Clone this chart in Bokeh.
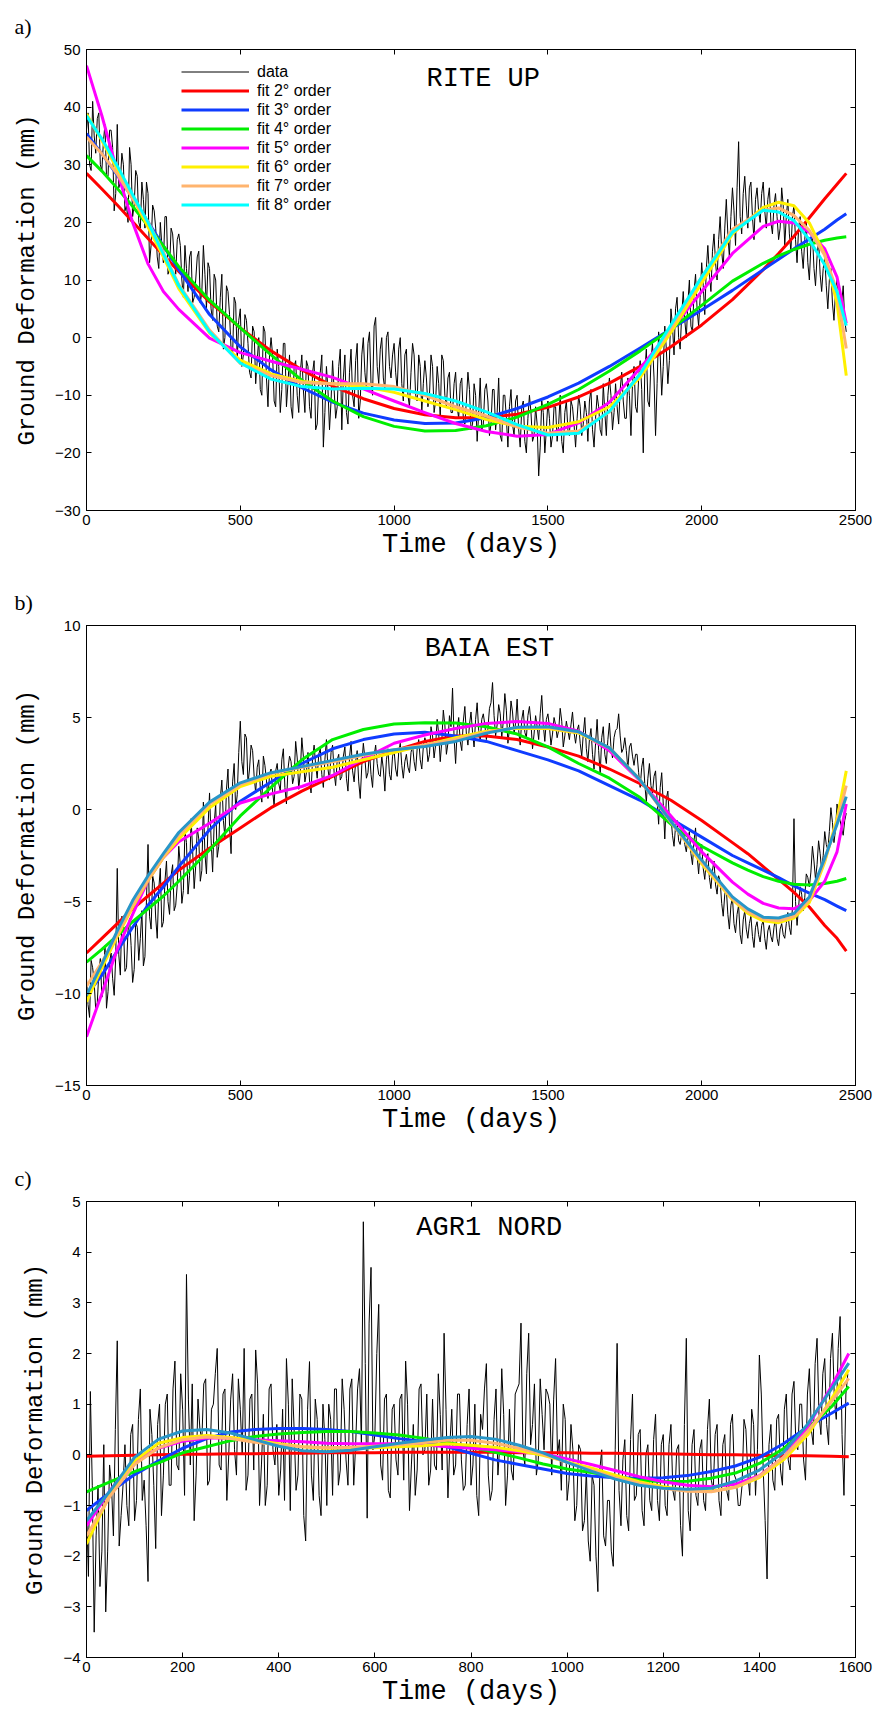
from bokeh.plotting import figure
from bokeh.models import Range1d, LinearAxis, FixedTicker, Label, Legend, LegendItem, Title
from bokeh.layouts import column
from bokeh.embed import file_html
from bokeh.resources import INLINE

MONO = "Liberation Mono"
SANS = "Liberation Sans"
SERIF = "Liberation Serif"

# ---------------- tick values ----------------
xticks_ab = [0, 500, 1000, 1500, 2000, 2500]
xticks_c = [0, 200, 400, 600, 800, 1000, 1200, 1400, 1600]
yticks_a = [-30, -20, -10, 0, 10, 20, 30, 40, 50]
yticks_b = [-15, -10, -5, 0, 5, 10]
yticks_c = [-4, -3, -2, -1, 0, 1, 2, 3, 4, 5]

legend_labels = ["data", "fit 2\u00b0 order", "fit 3\u00b0 order", "fit 4\u00b0 order",
                 "fit 5\u00b0 order", "fit 6\u00b0 order", "fit 7\u00b0 order", "fit 8\u00b0 order"]

# ---------------- panel a : RITE UP ----------------
# readings at days 0, 10, 20, ...
data_a_even = [
    36, 30, 41, 32, 39, 29, 37, 28, 36, 22,
    37, 27, 30, 23, 33, 21, 29, 20, 27, 19,
    25, 16, 22, 14, 20, 13, 21, 12, 18, 11,
    18, 10, 16, 8, 15, 7, 14, 6, 16, 5,
    12, 3, 10, 1, 11, 0, 8, -2, 7, -4,
    5, -3, 3, -6, 2, -8, 0, -10, 1, -12,
    0, -11, -2, -13, -1, -12, -3, -14, -4, -13,
    -3, -13, -5, -14, -4, -15, -6, -19, -5, -16,
    -4, -14, -5, -16, -3, -15, -2, -12, -1, -11,
    0, -9, 1, -10, 3.5, -8, 0, -9, 1, -7,
    -1, -9, 0, -11, -2, -12, -1, -10, -3, -13,
    -4, -12, -3, -13, -5, -14, -4, -12, -6, -13,
    -6, -14, -7, -15, -6, -16, -8, -18, -7, -15,
    -8, -17, -9, -16, -7, -18, -10, -19, -9, -17,
    -10, -19, -11, -20, -10, -18, -12, -24, -11, -20,
    -11, -19, -12, -18, -10, -20, -11, -17, -12, -19,
    -10, -17, -11, -18, -9, -19, -10, -16, -8, -17,
    -7, -16, -8, -15, -6, -14, -7, -17, -5, -13,
    -4, -20, -2, -12, -1, -17, 1, -10, 2, -8,
    5, -3, 7, -2, 8, 0, 10, 1, 11, 2,
    13, 4, 16, 8, 18, 10, 21, 12, 24, 14,
    26, 16, 34, 18, 28, 19, 27, 17, 26, 20,
    27, 19, 26, 18, 25, 17, 26, 16, 24, 15,
    23, 13, 21, 12, 20, 10, 18, 9, 17, 8,
    14, 5, 12, 3, 10, 2, 9, 1]
# readings at days 5, 15, 25, ...
data_a_odd = [
    39, 29, 35, 38, 30, 34, 28, 36, 33, 25,
    26, 32, 22, 20, 30, 23, 28, 19, 24, 27,
    13, 23, 19, 12, 16, 21, 11, 19, 14, 17,
    16, 7, 12, 14, 6, 10, 15, 8, 11, 13,
    5, 11, 2, 7, -2, 9, 4, -3, 6, 3,
    -5, 4, -1, -7, 1, -4, -9, 2, -7, -3,
    -3, -12, -5, -9, -1, -8, -12, -5, -10, -6,
    -9, -4, -12, -6, -16, -8, -3, -13, -9, -11,
    -9, -12, -2, -7, -13, -6, -10, -4, -14, -3,
    -6, -1, -8, 2, -5, -2, -7, 0, -5, -3,
    -6, -2, -8, -3, -10, -6, -3, -11, -5, -8,
    -7, -10, -5, -11, -8, -3, -10, -7, -13, -8,
    -12, -8, -14, -11, -9, -15, -10, -13, -16, -9,
    -11, -15, -9, -13, -17, -10, -14, -12, -15, -11,
    -16, -12, -18, -14, -13, -17, -15, -19, -13, -16,
    -14, -17, -12, -15, -18, -13, -16, -11, -15, -14,
    -12, -15, -13, -11, -16, -14, -12, -17, -13, -10,
    -10, -13, -12, -9, -11, -14, -10, -8, -12, -7,
    -9, -6, -11, -4, -7, -8, -3, -5, -2, -4,
    2, 5, 0, 4, 3, 6, 2, 8, 5, 7,
    9, 12, 11, 15, 13, 17, 15, 19, 18, 21,
    22, 26, 21, 25, 23, 26, 21, 24, 22, 25,
    22, 24, 20, 23, 21, 19, 23, 21, 18, 21,
    17, 19, 15, 17, 13, 16, 12, 14, 11, 12,
    9, 10, 6, 8, 4, 6, 3]

xfit_a = [0, 50, 100, 150, 200, 250, 300, 400, 500, 600, 700, 800, 900, 1000, 1100, 1200,
          1300, 1400, 1500, 1600, 1700, 1800, 1900, 2000, 2100, 2200, 2250, 2300, 2350, 2400, 2440, 2470]
fit2_a = [28.5, 25.8, 23.0, 20.1, 17.2, 14.3, 11.5, 6.2, 1.7, -2.3, -5.6, -8.4, -10.6, -12.3, -13.4, -13.9,
          -13.9, -13.3, -12.1, -10.3, -7.9, -5.0, -1.6, 2.2, 6.6, 11.8, 14.6, 17.6, 20.8, 24.1, 26.6, 28.5]
fit3_a = [35.4, 31.9, 28.2, 24.2, 20.1, 15.9, 11.8, 4.0, -1.6, -5.6, -8.7, -11.2, -13.1, -14.3, -14.9, -14.8,
          -13.9, -12.3, -10.3, -7.9, -5.0, -1.8, 1.5, 4.8, 8.2, 11.8, 13.6, 15.4, 17.1, 18.8, 20.4, 21.5]
fit4_a = [31.6, 28.9, 25.9, 22.8, 19.4, 15.9, 12.3, 6.5, 1.7, -3.0, -7.4, -11.0, -13.7, -15.4, -16.2, -16.1,
          -15.3, -13.8, -11.6, -9.0, -5.8, -2.3, 1.5, 5.6, 9.8, 12.9, 14.2, 15.3, 16.2, 16.9, 17.3, 17.5]
fit5_a = [47.2, 38.5, 28.8, 20.0, 12.8, 8.0, 4.9, -0.1, -2.6, -4.1, -5.5, -6.9, -8.9, -11.0, -13.0, -14.9,
          -16.3, -17.1, -16.8, -14.8, -11.2, -5.3, 1.3, 8.0, 14.6, 19.3, 20.2, 19.9, 18.3, 15.4, 10.5, 2.5]
fit6_a = [38.8, 34.2, 29.2, 24.3, 19.2, 14.0, 8.5, 0.8, -3.9, -6.3, -7.6, -8.0, -8.5, -9.5, -11.0, -12.5,
          -14.2, -15.4, -15.6, -14.6, -12.0, -6.9, 0.9, 9.5, 18.0, 22.6, 23.5, 22.9, 19.9, 14.4, 6.0, -6.6]
fit7_a = [34.8, 31.9, 28.4, 24.1, 20.1, 14.8, 9.2, 1.3, -4.5, -6.6, -7.8, -8.0, -8.0, -8.5, -10.0, -12.0,
          -13.6, -15.5, -16.6, -16.2, -12.9, -6.2, 1.6, 10.5, 18.8, 22.1, 22.5, 21.2, 18.6, 14.3, 8.0, -1.9]
fit8_a = [38.5, 34.5, 29.8, 24.8, 20.0, 14.5, 9.0, 1.0, -4.4, -7.2, -8.5, -8.9, -8.8, -8.9, -9.7, -11.0,
          -12.9, -15.1, -16.9, -16.6, -12.8, -6.3, 2.2, 10.5, 18.3, 22.1, 21.8, 20.3, 17.0, 12.6, 8.0, 2.1]

# ---------------- panel b : BAIA EST ----------------
data_b_even = [
    -9.2, -11.3, -8.6, -10.9, -8.9, -10.2, -7.4, -9.9, -7.8, -10.1,
    -3.2, -9.0, -6.3, -8.6, -5.9, -9.4, -6.1, -8.2, -5.5, -8.0,
    -1.9, -6.5, -4.0, -7.0, -3.2, -6.1, -2.8, -5.7, -3.0, -5.2,
    -2.0, -5.1, -1.2, -4.6, -0.5, -4.3, -1.0, -3.9, 0.4, -3.5,
    0.9, -3.4, 0.3, -2.0, 1.6, -1.5, 2.2, -2.4, 2.5, 0.8,
    4.8, 1.9, 3.9, 2.2, 3.2, 0.9, 2.7, 0.4, 2.4, 0.6,
    2.2, 0.2, 2.5, 1.0, 3.3, 0.3, 2.9, 1.4, 3.7, 1.1,
    3.9, 1.5, 3.1, 0.9, 3.5, 1.7, 3.3, 1.2, 3.8, 1.6,
    3.5, 1.3, 3.0, 1.8, 3.4, 1.0, 3.7, 1.5, 3.2, 0.6,
    3.6, 1.7, 3.1, 1.2, 3.5, 1.9, 2.9, 1.0, 3.3, 1.6,
    3.2, 1.8, 3.6, 1.7, 3.0, 2.0, 3.5, 2.1, 3.8, 2.2,
    3.9, 2.6, 4.5, 2.8, 4.9, 2.6, 5.4, 3.0, 5.1, 6.6,
    2.5, 5.0, 3.2, 5.6, 3.5, 5.3, 3.4, 5.8, 3.7, 5.2,
    3.8, 5.5, 6.9, 4.0, 5.7, 3.9, 6.3, 3.6, 5.9, 4.1,
    6.0, 3.5, 5.4, 3.9, 5.6, 3.3, 5.1, 3.8, 6.2, 3.7,
    5.2, 3.5, 5.0, 3.9, 5.5, 3.4, 4.8, 3.8, 5.3, 3.6,
    4.6, 2.9, 5.0, 2.6, 4.4, 2.2, 4.9, 1.9, 4.5, 2.5,
    4.7, 2.8, 4.3, 5.2, 3.1, 3.9, 2.2, 3.6, 2.4, 3.0,
    1.2, 2.8, 0.4, 2.5, 0.9, 2.1, -0.8, 2.0, -1.6, 1.0,
    -0.4, -2.0, -0.6, -1.9, -0.9, -2.3, -1.2, -3.0, -1.0, -3.5,
    -1.9, -3.8, -2.4, -4.3, -2.8, -4.6, -3.9, -5.8, -4.3, -6.5,
    -4.8, -6.7, -5.2, -7.3, -5.5, -7.0, -5.8, -7.5, -6.1, -7.2,
    -6.0, -7.6, -6.3, -7.2, -5.9, -7.4, -6.2, -7.0, -5.6, -6.8,
    -0.5, -6.3, -4.2, -5.5, -3.5, -4.2, -2.0, -3.8, -1.7, -3.3,
    -1.2, -2.2, 0.1, -1.8, 0.3, -0.6, -1.4, -0.2]
data_b_odd = [
    -10.6, -8.2, -9.4, -10.5, -8.1, -9.7, -10.8, -8.3, -9.2, -8.0,
    -7.9, -5.8, -8.8, -6.6, -7.4, -8.7, -6.4, -7.0, -8.5, -4.9,
    -5.8, -3.6, -5.9, -4.3, -6.4, -3.9, -5.0, -3.6, -5.5, -4.1,
    -3.0, -4.4, -1.8, -3.6, -2.2, -3.1, -1.6, -3.3, -2.4, -1.0,
    -1.6, -0.8, -2.6, 0.6, -0.6, 1.1, -0.9, 1.5, 0.0, 3.1,
    2.6, 4.1, 1.4, 3.5, 1.8, 2.3, 1.2, 2.9, 1.6, 1.9,
    1.0, 2.1, 1.4, 2.7, 1.2, 2.2, 2.6, 1.8, 2.8, 2.0,
    2.9, 2.0, 1.6, 2.8, 2.4, 3.0, 1.9, 2.7, 2.2, 3.1,
    2.0, 2.7, 1.6, 2.9, 1.7, 2.8, 2.1, 2.6, 1.5, 2.4,
    2.8, 2.0, 1.9, 2.9, 2.5, 1.8, 2.2, 2.7, 1.9, 2.9,
    2.2, 3.1, 2.4, 2.6, 2.3, 3.1, 2.6, 3.3, 2.7, 3.4,
    3.6, 3.0, 4.0, 3.5, 4.1, 3.7, 4.6, 3.6, 4.5, 3.9,
    4.3, 3.7, 4.8, 4.1, 4.6, 4.2, 4.9, 4.3, 4.9, 4.6,
    4.4, 5.8, 5.1, 4.6, 5.2, 4.8, 5.4, 4.4, 5.3, 4.7,
    4.3, 4.9, 4.2, 5.1, 4.7, 4.1, 4.5, 5.2, 4.6, 4.9,
    4.5, 4.1, 4.6, 4.3, 4.8, 4.0, 4.3, 4.6, 4.2, 4.3,
    3.6, 4.1, 3.3, 3.8, 3.0, 3.6, 3.2, 3.9, 3.0, 3.8,
    3.4, 3.9, 4.4, 4.0, 3.3, 3.2, 3.4, 2.9, 3.0, 2.0,
    2.3, 1.4, 1.7, 1.3, 1.8, 0.5, 1.2, 0.3, 0.6, -0.6,
    -1.4, -0.9, -1.7, -1.3, -1.9, -1.6, -2.4, -1.7, -2.5, -2.2,
    -3.2, -2.7, -3.7, -3.3, -4.1, -3.6, -5.1, -4.6, -5.7, -5.2,
    -6.2, -5.7, -6.8, -6.0, -6.5, -6.2, -6.9, -6.4, -6.8, -6.3,
    -7.0, -6.6, -6.9, -6.4, -7.0, -6.5, -6.8, -6.2, -6.4, -5.3,
    -5.0, -5.3, -4.6, -4.8, -3.7, -3.4, -2.8, -3.0, -2.4, -2.5,
    -1.9, -1.2, -0.7, -1.1, -0.3, -1.0, -0.6]

xfit_b = [0, 50, 100, 150, 200, 250, 300, 400, 500, 600, 700, 800, 900, 1000, 1100, 1200, 1300,
          1400, 1500, 1600, 1700, 1800, 1900, 2000, 2100, 2150, 2200, 2250, 2300, 2350, 2400, 2440, 2470]
fit2_b = [-7.8, -7.0, -6.2, -5.4, -4.7, -4.0, -3.3, -2.1, -1.0, 0.1, 1.0, 1.8, 2.6, 3.2, 3.7, 4.0, 4.0,
          3.8, 3.4, 2.9, 2.2, 1.4, 0.5, -0.6, -1.8, -2.4, -3.1, -3.8, -4.5, -5.3, -6.3, -7.0, -7.7]
fit3_b = [-10.1, -9.0, -7.7, -6.4, -5.2, -4.2, -3.1, -1.1, 0.45, 1.5, 2.5, 3.3, 3.8, 4.1, 4.2, 4.0, 3.7,
          3.2, 2.7, 2.1, 1.3, 0.5, -0.5, -1.5, -2.5, -2.9, -3.3, -3.7, -4.15, -4.55, -4.9, -5.25, -5.5]
fit4_b = [-8.3, -7.6, -6.85, -6.1, -5.4, -4.7, -3.9, -2.2, -0.35, 1.2, 2.7, 3.8, 4.35, 4.65, 4.72, 4.7, 4.5,
          4.1, 3.4, 2.5, 1.7, 0.65, -0.8, -2.0, -2.9, -3.3, -3.65, -3.9, -4.06, -4.1, -4.02, -3.9, -3.75]
fit5_b = [-12.35, -10.0, -7.6, -5.7, -3.85, -2.6, -1.75, -0.75, 0.35, 0.85, 1.25, 1.85, 2.75, 3.6, 4.05, 4.4, 4.68,
          4.78, 4.68, 4.25, 3.2, 1.55, -0.35, -2.3, -3.95, -4.6, -5.1, -5.35, -5.4, -4.95, -3.9, -2.3, 0.3]
fit6_b = [-10.45, -8.6, -6.9, -5.3, -3.85, -2.6, -1.6, 0.1, 1.25, 1.8, 2.05, 2.3, 2.7, 3.1, 3.5, 3.9, 4.25,
          4.42, 4.4, 4.15, 3.35, 1.6, -0.65, -2.95, -4.9, -5.65, -6.05, -6.15, -5.9, -5.05, -2.85, -0.5, 2.1]
fit7_b = [-9.6, -8.3, -6.8, -5.2, -3.8, -2.55, -1.4, 0.3, 1.35, 1.95, 2.3, 2.6, 2.95, 3.25, 3.5, 3.8, 4.2,
          4.45, 4.45, 4.2, 3.35, 1.6, -0.7, -2.85, -4.85, -5.55, -5.95, -6.05, -5.8, -4.9, -2.75, -0.7, 1.3]
fit8_b = [-10.1, -8.4, -6.6, -4.95, -3.6, -2.4, -1.25, 0.4, 1.45, 2.0, 2.33, 2.67, 3.0, 3.25, 3.42, 3.7, 4.15,
          4.47, 4.5, 4.22, 3.35, 1.6, -0.65, -2.75, -4.75, -5.4, -5.85, -5.9, -5.65, -4.75, -2.65, -0.8, 0.7]

# ---------------- panel c : AGR1 NORD ----------------
# readings at days 0, 8, 16, ...
data_c_even = [
    -1.0, 1.25, -3.5, -0.6, -1.9, -3.1, -0.2, -1.6, 2.25, -1.2,
    0.2, -1.4, 0.6, -0.9, 1.3, -0.5, -2.5, 0.4, -1.85, 1.0,
    -0.4, 1.2, -0.6, 1.85, -0.3, 0.9, 3.56, -0.2, -1.3, 1.1,
    0.3, 1.5, -0.5, 1.0, 2.1, -0.3, 1.3, 0.0, 1.6, -0.4,
    0.9, 2.1, -0.4, 1.2, 2.07, -1.0, 0.8, -0.6, 1.4, -0.2,
    -0.8, 0.9, 1.9, -1.1, 0.5, -0.4, 1.1, -1.7, 1.84, -0.9,
    0.7, -1.2, 0.3, 1.0, -0.8, 1.3, -0.3, 0.9, -0.6, 1.5,
    0.2, 1.7, 4.6, -1.25, 3.7, 0.4, 2.97, -0.5, 1.2, -0.85,
    1.0, -0.4, 1.2, 1.85, -1.1, 0.6, -0.3, 1.4, 0.1, -0.6,
    1.1, -0.3, 0.8, 2.4, -0.85, 0.9, -0.2, 1.2, -0.7, 0.6,
    -0.6, 1.0, -1.2, 0.5, 1.8, -0.9, 0.7, -0.4, 1.7, -1.0,
    0.9, -0.5, 1.3, 2.6, -0.2, 2.4, 0.6, -0.4, 1.5, 0.1,
    1.2, -0.4, 1.9, 0.3, 1.0, -0.9, 0.6, -1.3, 0.2, -1.5,
    -0.3, -2.1, -0.6, -2.7, 0.1, -1.8, -0.9, -2.2, 2.2, -1.4,
    0.3, -1.5, 1.2, -0.8, 0.5, -1.4, 0.2, -1.1, 0.8, -1.3,
    0.4, -1.2, 0.6, -0.9, 0.2, -2.0, 2.3, -1.5, 0.5, -1.0,
    0.3, -1.1, 1.1, -0.7, 0.6, -1.2, 0.4, -0.9, 0.8, -0.5,
    -1.0, 0.7, -0.4, 0.9, -0.8, 1.97, -0.3, -2.45, 0.6, -0.7,
    0.8, -0.6, 1.2, -0.3, 1.45, 0.1, 1.0, -0.5, 1.7, 0.2,
    2.3, 0.4, 1.9, 0.2, 2.4, 0.7, 2.73, -0.8, 1.6]
# readings at days 4, 12, 20, ...
data_c_odd = [
    -2.4, -0.6, -1.6, -2.6, 0.2, -1.9, -0.6, 0.5, -1.8, -0.6,
    -1.0, 0.4, -1.3, 0.7, -0.9, -1.4, 0.9, -0.6, 0.6, -1.2,
    1.0, -0.6, 1.3, -0.2, 1.6, -0.8, 1.1, 1.4, -0.4, 0.5,
    1.4, -0.6, 0.9, 1.6, -0.2, 1.2, -0.9, 1.1, 0.1, 1.5,
    0.0, -0.7, 1.1, -0.3, 1.4, -0.2, -1.0, 1.3, 0.1, 0.6,
    -0.3, -0.9, 1.0, 1.5, -0.7, 1.2, -1.2, 0.9, -0.4, 1.1,
    -0.8, 1.0, -1.0, 0.7, 1.3, -0.6, 1.5, -0.1, 1.3, -0.6,
    1.3, 0.2, 1.8, 2.6, 0.1, 2.0, -0.2, 1.1, -0.7, 0.9,
    -0.1, 1.1, -0.5, 1.0, -0.2, -0.8, 1.3, 0.0, 1.2, -0.3,
    -0.2, 1.6, -0.3, 0.9, 0.2, -0.4, 1.2, -0.1, -0.6, 1.3,
    -0.2, -0.8, 0.8, 1.3, -0.4, -0.7, 1.3, 0.2, 0.8, -0.4,
    -0.3, 1.2, 1.4, 0.1, 1.6, 0.2, 1.4, -0.1, 0.8, 1.3,
    1.0, 1.1, 0.0, -0.7, 0.7, -0.5, 0.1, -1.0, 0.1, -1.3,
    -1.7, -0.4, -2.0, -0.3, -1.6, -0.9, -1.9, 0.1, -0.7, -0.1,
    -1.2, 0.3, -0.9, 0.4, -1.1, 0.0, -0.9, 0.3, -0.9, 0.2,
    -1.0, 0.2, -0.7, 0.1, -1.4, 0.6, -1.1, 0.2, -0.8, 0.1,
    -0.9, 0.5, -0.5, 0.4, -0.9, 0.2, -0.7, 0.6, -0.4, -1.0,
    -0.6, 0.5, -0.8, 0.6, 0.1, 1.2, -1.3, 0.2, -0.5, 0.7,
    -0.3, 0.9, -0.1, 1.2, 0.2, 1.0, -0.1, 1.2, 0.5, 1.8,
    0.8, 1.6, 0.6, 1.9, 1.1, 2.1, 0.4, 1.2]

xfit_c = [0, 50, 100, 150, 200, 250, 300, 350, 400, 450, 500, 550, 600, 650, 700, 750, 800,
          850, 900, 950, 1000, 1050, 1100, 1150, 1200, 1250, 1300, 1350, 1400, 1450, 1500, 1550, 1586]
fit2_c = [-0.03, -0.02, -0.01, 0.0, 0.01, 0.01, 0.02, 0.02, 0.03, 0.03, 0.04, 0.04, 0.04, 0.05, 0.05, 0.05, 0.05,
          0.05, 0.04, 0.04, 0.04, 0.03, 0.03, 0.02, 0.02, 0.01, 0.0, 0.0, -0.01, -0.02, -0.02, -0.03, -0.04]
fit3_c = [-1.1, -0.73, -0.39, -0.12, 0.13, 0.32, 0.45, 0.5, 0.52, 0.52, 0.5, 0.46, 0.39, 0.32, 0.27, 0.16, 0.03,
          -0.1, -0.19, -0.28, -0.37, -0.42, -0.45, -0.46, -0.45, -0.41, -0.33, -0.22, -0.05, 0.22, 0.55, 0.82, 1.02]
fit4_c = [-0.73, -0.53, -0.33, -0.16, 0.04, 0.16, 0.28, 0.36, 0.41, 0.44, 0.46, 0.46, 0.43, 0.39, 0.33, 0.25, 0.15,
          0.05, -0.06, -0.18, -0.28, -0.35, -0.43, -0.5, -0.53, -0.52, -0.46, -0.36, -0.17, 0.12, 0.52, 0.95, 1.35]
fit5_c = [-1.4, -0.69, -0.13, 0.13, 0.27, 0.33, 0.33, 0.3, 0.28, 0.26, 0.23, 0.22, 0.22, 0.22, 0.2, 0.16, 0.13,
          0.1, 0.06, 0.02, -0.08, -0.19, -0.31, -0.43, -0.53, -0.6, -0.63, -0.58, -0.41, -0.05, 0.55, 1.35, 2.0]
fit6_c = [-1.76, -0.76, -0.12, 0.23, 0.34, 0.38, 0.34, 0.29, 0.22, 0.16, 0.13, 0.13, 0.14, 0.16, 0.18, 0.22, 0.19,
          0.15, 0.08, -0.01, -0.14, -0.26, -0.4, -0.53, -0.63, -0.7, -0.72, -0.64, -0.45, -0.1, 0.39, 1.1, 1.68]
fit7_c = [-1.6, -0.8, -0.19, 0.14, 0.3, 0.35, 0.32, 0.25, 0.2, 0.16, 0.14, 0.15, 0.17, 0.2, 0.24, 0.29, 0.29,
          0.23, 0.13, 0.01, -0.15, -0.3, -0.45, -0.56, -0.66, -0.72, -0.73, -0.64, -0.42, -0.05, 0.46, 1.05, 1.51]
fit8_c = [-1.3, -0.7, -0.05, 0.31, 0.47, 0.5, 0.43, 0.3, 0.17, 0.08, 0.06, 0.09, 0.16, 0.23, 0.29, 0.34, 0.36,
          0.31, 0.19, 0.04, -0.15, -0.32, -0.48, -0.6, -0.66, -0.68, -0.66, -0.52, -0.3, 0.05, 0.6, 1.3, 1.81]

FIT_COLORS = ["#ff0000", "#0f3cff", "#00ee00", "#ff00ff", "#fff000", "#ffb46e"]
CYAN = "#00ffff"
TEAL = "#2896c8"


def merge(even, odd, step):
    """Put the two sets of readings back in day order."""
    vals = []
    for i, v in enumerate(even):
        vals.append(v)
        if i < len(odd):
            vals.append(odd[i])
    days = [i * step for i in range(len(vals))]
    return days, vals


def lbl(v):
    return str(v).replace("-", "\u2212")


def make_panel(height, top, bottom, xr, yr, xticks, yticks, days, data, xfit, fits, c8,
               letter, title, title_xy, legend=False):
    p = figure(width=880, height=height, x_range=Range1d(*xr), y_range=Range1d(*yr),
               output_backend="svg", toolbar_location=None,
               min_border_left=86, min_border_right=25, min_border_top=top, min_border_bottom=bottom)
    p.grid.visible = False
    p.outline_line_color = "black"
    p.outline_line_width = 1
    p.background_fill_color = "white"
    p.border_fill_color = "white"

    for ax, ticks, standoff in ((p.xaxis[0], xticks, 4), (p.yaxis[0], yticks, 6)):
        ax.ticker = FixedTicker(ticks=ticks)
        ax.major_label_overrides = {t: lbl(t) for t in ticks}
        ax.major_tick_in = 5
        ax.major_tick_out = 0
        ax.minor_tick_line_color = None
        ax.axis_line_color = "black"
        ax.major_tick_line_color = "black"
        ax.major_label_text_font = SANS
        ax.major_label_text_font_size = "15px"
        ax.major_label_text_color = "black"
        ax.major_label_standoff = standoff
        ax.axis_label_text_font = MONO
        ax.axis_label_text_font_style = "normal"
        ax.axis_label_text_color = "black"
    p.yaxis[0].axis_label = "Ground Deformation (mm)"
    p.yaxis[0].axis_label_text_font_size = "24px"
    p.yaxis[0].axis_label_standoff = 11
    p.xaxis[0].axis_label = "Time (days)"
    p.xaxis[0].axis_label_text_font_size = "27px"
    p.xaxis[0].axis_label_standoff = 2

    for ticks, place in ((xticks, "above"), (yticks, "right")):
        ax = LinearAxis(ticker=FixedTicker(ticks=ticks), major_tick_in=5, major_tick_out=0,
                        minor_tick_line_color=None, axis_line_color="black",
                        major_label_overrides={t: "" for t in ticks},
                        major_label_text_font_size="1px", major_label_standoff=0)
        p.add_layout(ax, place)

    p.title = Title(text=letter, align="left", offset=-72, text_font=SERIF,
                    text_font_size="22px", text_font_style="normal", text_color="black",
                    standoff=22, vertical_align="bottom")
    p.title_location = "above"

    r_data = p.line(days, data, line_color="black", line_width=1)
    renderers = [r_data]
    colors = FIT_COLORS + [c8]
    for fy, col in zip(fits, colors):
        renderers.append(p.line(xfit, fy, line_color=col, line_width=3, line_join="round"))

    p.add_layout(Label(x=title_xy[0], y=title_xy[1], text=title, text_font=MONO,
                       text_font_size="27px", text_align="center", text_baseline="middle",
                       text_color="black"))

    if legend:
        items = [LegendItem(label=t, renderers=[r]) for t, r in zip(legend_labels, renderers)]
        lg = Legend(items=items, location=(95, 296), orientation="vertical",
                    border_line_color=None, background_fill_alpha=0, padding=0, spacing=0,
                    margin=0, glyph_width=68, glyph_height=19, label_height=19, label_standoff=8,
                    label_text_font=SANS, label_text_font_size="16px", label_text_color="black")
        p.add_layout(lg)
    return p


days_a, vals_a = merge(data_a_even, data_a_odd, 5)
days_b, vals_b = merge(data_b_even, data_b_odd, 5)
days_c, vals_c = merge(data_c_even, data_c_odd, 4)

pa = make_panel(570, 49, 60, (0, 2500), (-30, 50), xticks_ab, yticks_a, days_a, vals_a, xfit_a,
                [fit2_a, fit3_a, fit4_a, fit5_a, fit6_a, fit7_a, fit8_a], CYAN,
                "a)", "RITE UP", (1290, 44.8), legend=True)
pb = make_panel(574, 55, 59, (0, 2500), (-15, 10), xticks_ab, yticks_b, days_b, vals_b, xfit_b,
                [fit2_b, fit3_b, fit4_b, fit5_b, fit6_b, fit7_b, fit8_b], TEAL,
                "b)", "BAIA EST", (1310, 8.75))
pc = make_panel(565, 57, 50, (0, 1600), (-4, 5), xticks_c, yticks_c, days_c, vals_c, xfit_c,
                [fit2_c, fit3_c, fit4_c, fit5_c, fit6_c, fit7_c, fit8_c], TEAL,
                "c)", "AGR1 NORD", (838, 4.47))

layout = column(pa, pb, pc, spacing=0)
open("out.html", "w").write(file_html(layout, INLINE, title="Ground deformation fits"))
